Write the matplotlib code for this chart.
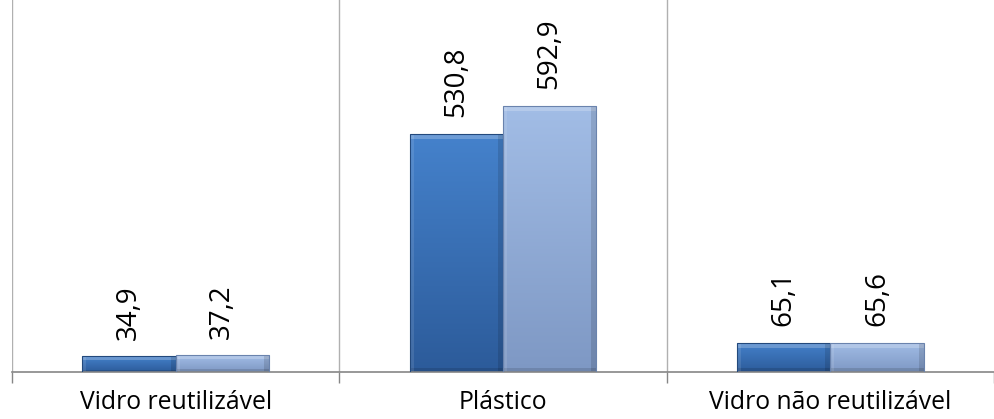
import numpy as np
import matplotlib.pyplot as plt
from matplotlib.colors import LinearSegmentedColormap

# categorias e séries
categorias = ['Vidro reutilizável', 'Plástico', 'Vidro não reutilizável']
serie_a = [34.9, 530.8, 65.1]
serie_b = [37.2, 592.9, 65.6]

COR_A = ('#4582cc', '#2c5b9a', '#23497c')   # topo, base, borda
COR_B = ('#a2bde6', '#7e98c4', '#6a83ad')

plt.rcParams['font.family'] = ['Open Sans', 'DejaVu Sans']

fig = plt.figure(figsize=(9.94, 4.19), dpi=100)
W, H = 994, 419
ax = fig.add_axes([12 / W, (H - 372) / H, (994 - 12) / W, 372 / H])

x = np.arange(len(categorias))
largura = 0.285


def barras_gradiente(xs, vals, cores):
    bars = ax.bar(xs, vals, largura, color='none', edgecolor=cores[2], linewidth=0.8, zorder=3)
    cmap = LinearSegmentedColormap.from_list('g', [cores[1], cores[0]])
    grad = np.linspace(0, 1, 256).reshape(-1, 1)
    for b in bars:
        x0, y0 = b.get_x(), b.get_y()
        w, h = b.get_width(), b.get_height()
        im = ax.imshow(grad, cmap=cmap, aspect='auto', origin='lower',
                       extent=(x0, x0 + w, y0, y0 + h), zorder=2)
        im.set_clip_path(b)
        # realce do bisel no topo, sombra na base e nas laterais
        bev = min(h * 0.25, 12)
        ax.fill_between([x0, x0 + w], y0 + h - bev, y0 + h, color='white', alpha=0.22,
                        linewidth=0, zorder=2.5)
        ax.fill_between([x0, x0 + w], y0, y0 + min(h * 0.15, 8), color='black', alpha=0.12,
                        linewidth=0, zorder=2.5)
        ax.fill_between([x0 + w - 0.015, x0 + w], y0, y0 + h, color='black', alpha=0.12,
                        linewidth=0, zorder=2.5)
        ax.fill_between([x0, x0 + 0.012], y0, y0 + h, color='white', alpha=0.10,
                        linewidth=0, zorder=2.5)
    return bars


ba = barras_gradiente(x - largura / 2, serie_a, COR_A)
bb = barras_gradiente(x + largura / 2, serie_b, COR_B)

for bars, vals in ((ba, serie_a), (bb, serie_b)):
    for b, v in zip(bars, vals):
        ax.annotate(f'{v:.1f}'.replace('.', ','),
                    (b.get_x() + b.get_width() / 2, b.get_height()),
                    xytext=(0, 12), textcoords='offset points',
                    rotation=90, ha='center', va='bottom', fontsize=20)

ax.set_xlim(-0.5, -0.5 + 982 / 330)
ax.set_ylim(0, 828)

# linhas verticais separando as categorias
for xv in [-0.5, 0.5, 1.5]:
    ax.axvline(xv, color='#b0b0b0', linewidth=1, zorder=1)

ax.set_xticks([-0.5, 0.5, 1.5, 2.5])
ax.set_xticklabels([])
ax.set_xticks(x, minor=True)
ax.set_xticklabels(categorias, minor=True, fontsize=17.8)
ax.tick_params(axis='x', which='major', length=8, color='#868686', width=1)
ax.tick_params(axis='x', which='minor', length=0, pad=13)
ax.set_yticks([])

for s in ['top', 'right', 'left']:
    ax.spines[s].set_visible(False)
ax.spines['bottom'].set_color('#868686')
ax.spines['bottom'].set_linewidth(1.2)

plt.savefig('out.png', dpi=100)
